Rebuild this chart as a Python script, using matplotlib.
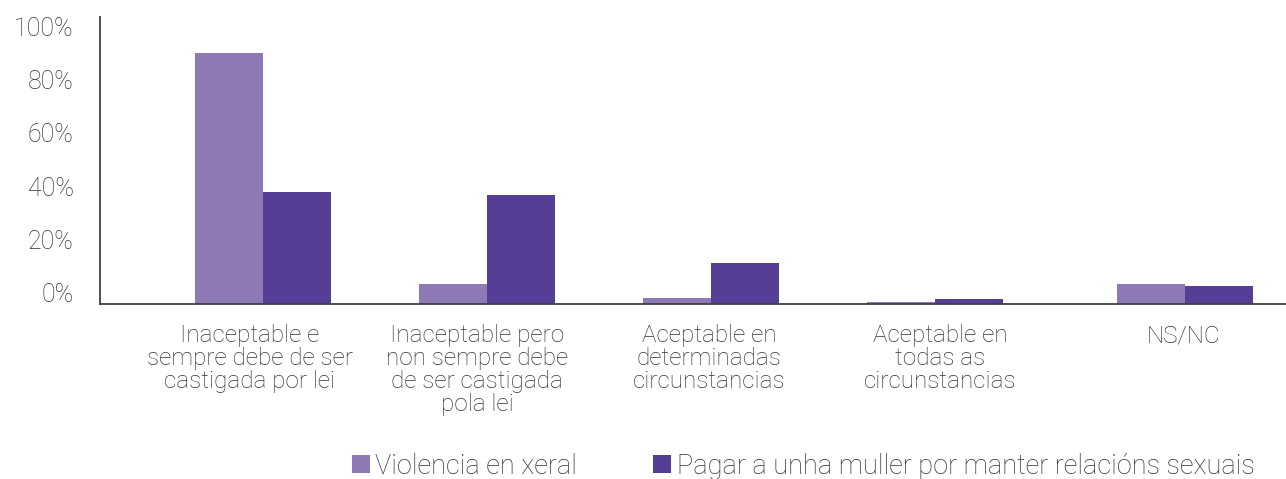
import numpy as np
import matplotlib
matplotlib.use('Agg')
import matplotlib.pyplot as plt
import matplotlib.transforms as mtransforms

plt.rcParams['font.family'] = ['Roboto', 'DejaVu Sans']
plt.rcParams['font.weight'] = 'light'

categorias = [
    'Inaceptable e\nsempre debe de ser\ncastigada por lei',
    'Inaceptable pero\nnon sempre debe\nde ser castigada\npola lei',
    'Aceptable en\ndeterminadas\ncircunstancias',
    'Aceptable en\ntodas as\ncircunstancias',
    'NS/NC',
]
series = ['Violencia en xeral', 'Pagar a unha muller por manter relacións sexuais']
violencia = [94.4, 7.5, 2.3, 0.8, 7.5]
pagar = [42.1, 41.0, 15.4, 1.9, 6.8]
yticks = [0, 20, 40, 60, 80, 100]

col_claro = '#8E79B5'
col_escuro = '#563D96'
col_texto = '#333333'

# posicións dos grupos e das etiquetas (en unidades de categoría)
xg = np.array([0, 1, 2, 3, 4.116])
xlab = [-0.058, 0.955, 1.991, 3.022, 4.107]
w = 0.3036

fig = plt.figure(figsize=(12.86, 4.79), dpi=100)
ax = fig.add_axes([100/1286, 175/479, 1186/1286, 287/479])

ax.bar(xg - w/2, violencia, w, color=col_claro, label=series[0], zorder=1)
ax.bar(xg + w/2, pagar, w, color=col_escuro, label=series[1], zorder=1)

ax.set_xlim(-0.7277, 4.567)
ax.set_ylim(0, 107.9)

for s in ['top', 'right']:
    ax.spines[s].set_visible(False)
for s in ['left', 'bottom']:
    ax.spines[s].set_color('#404040')
    ax.spines[s].set_linewidth(1.3)
    ax.spines[s].set_zorder(3)

ax.set_yticks(yticks)
ax.set_yticklabels([f'{v}%' for v in yticks])
ax.tick_params(axis='y', length=0, pad=19, labelsize=18, labelcolor=col_texto)
off = mtransforms.ScaledTranslation(0, 2/100, fig.dpi_scale_trans)
for lab in ax.get_yticklabels():
    lab.set_va('baseline')
    lab.set_transform(lab.get_transform() + off)

ax.set_xticks(xlab)
ax.set_xticklabels(categorias)
ax.tick_params(axis='x', length=0, pad=14.5, labelsize=17.5, labelcolor=col_texto)
for lab in ax.get_xticklabels():
    lab.set_linespacing(1.0)

fig.legend(loc='center', bbox_to_anchor=(0.6244, 0.027), ncol=2, frameon=False,
           fontsize=19.5, labelcolor=col_texto, handlelength=0.67, handleheight=0.67,
           handletextpad=0.2, columnspacing=2.8, borderpad=0, borderaxespad=0)

fig.savefig('out.png', dpi=100)
